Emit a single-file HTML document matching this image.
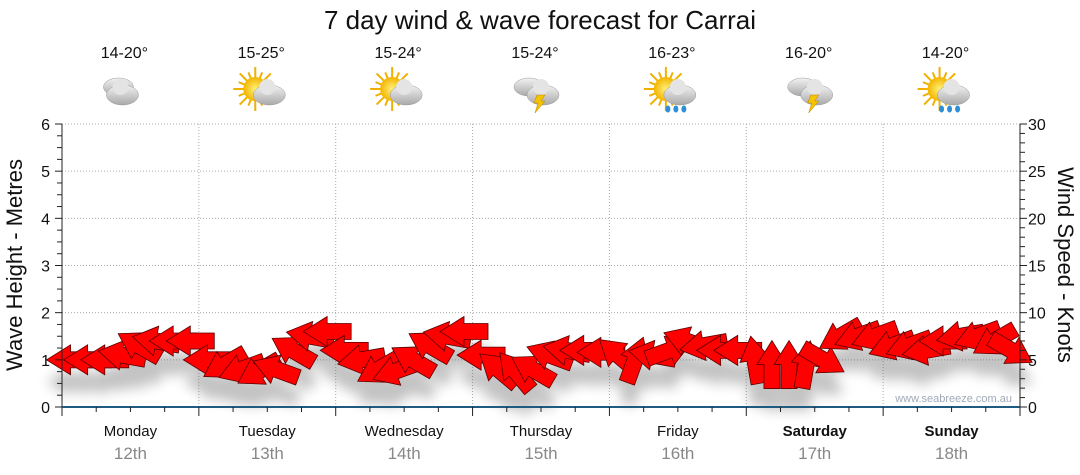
<!DOCTYPE html>
<html><head><meta charset="utf-8"><style>
body{margin:0;background:#fff;}
svg{display:block;font-family:"Liberation Sans",sans-serif;}
</style></head><body>
<svg id="chart" width="1080" height="475" viewBox="0 0 1080 475">
<defs>
<filter id="sh" x="-50%" y="-50%" width="200%" height="300%"><feGaussianBlur stdDeviation="6"/></filter>
<radialGradient id="sun" cx="0.5" cy="0.5" r="0.5"><stop offset="0" stop-color="#fff27a"/><stop offset="1" stop-color="#f3b400"/></radialGradient>
<linearGradient id="cl" x1="0" y1="0" x2="0" y2="1"><stop offset="0" stop-color="#f2f2f2"/><stop offset="1" stop-color="#a9a9a9"/></linearGradient>
</defs>
<text x="540" y="29" text-anchor="middle" font-size="26" fill="#111">7 day wind &amp; wave forecast for Carrai</text>
<g id="grid"></g><g id="shadows" filter="url(#sh)" opacity="0.35"></g><g id="arrows"></g><g id="axes"></g><g id="days"></g>
<text x="1012" y="402" text-anchor="end" font-size="11" fill="#a0aab8">www.seabreeze.com.au</text>
<text transform="translate(22,265) rotate(-90)" text-anchor="middle" font-size="22" fill="#111">Wave Height - Metres</text>
<text transform="translate(1058,265) rotate(90)" text-anchor="middle" font-size="22" fill="#111">Wind Speed - Knots</text>
</svg>
<script>
const dayNames=["Monday","Tuesday","Wednesday","Thursday","Friday","Saturday","Sunday"];
const dayDates=["12th","13th","14th","15th","16th","17th","18th"];
const temps=["14-20°","15-25°","15-24°","15-24°","16-23°","16-20°","14-20°"];
const icons=["cloud","suncloud","suncloud","storm","sunrain","storm","sunrain"];
const waveTicks=[0,1,2,3,4,5,6];
const windTicks=[0,5,10,15,20,25,30];
const windSpeed=[5,5,5,5.5,6.5,7,7,7, 5,4.5,4,3.8,4,6,7.5,8, 6,5,4,3.8,5,6.5,7.5,8, 5.5,4,3.8,4,5.5,6,6,5.8, 5.5,5,5.5,6,7,6.5,6,6, 5,4.5,4.5,4.5,5,7.5,7.5,7.5, 6.5,6.5,6,7,7.5,7.5,7,6];
const windDir=[90,90,90,100,120,100,90,90, 90,60,70,60,110,120,100,90, 90,80,60,70,120,120,100,90, 90,130,140,120,110,100,90,90, 130,200,100,250,110,80,90,90, 170,180,180,190,300,60,70,70, 70,70,80,90,80,70,60,300];
const NS="http://www.w3.org/2000/svg";
const X0=62,X1=1020,Y0=407,Y1=124;
const dayW=(X1-X0)/7;
function xT(i){return X0+dayW*(i+0.5)/8;}
function yK(k){return Y0-(Y0-Y1)*k/30;}
function yM(m){return Y0-(Y0-Y1)*m/6;}
function el(t,a,p){const e=document.createElementNS(NS,t);for(const k in a)e.setAttribute(k,a[k]);p.appendChild(e);return e;}
const grid=document.getElementById('grid'),axes=document.getElementById('axes'),days=document.getElementById('days');
waveTicks.forEach(v=>{if(v>0){const l=el('line',{x1:X0,x2:X1,y1:yM(v),y2:yM(v),stroke:'#aaa','stroke-dasharray':'1,2'},grid);}
 const t=el('text',{x:50,y:yM(v)+6,'text-anchor':'end','font-size':16,fill:'#111'},axes);t.textContent=v;
 });
for(let q=0;q<=24;q++){el('line',{x1:X0-(q%4?5:7),x2:X0,y1:yM(q/4),y2:yM(q/4),stroke:'#222'},axes);}
windTicks.forEach(v=>{const t=el('text',{x:1028,y:yK(v)+6,'font-size':16,fill:'#111'},axes);t.textContent=v;
 });
for(let k=0;k<=30;k++){el('line',{x1:X1,x2:X1+(k%5?5:7),y1:yK(k),y2:yK(k),stroke:'#222'},axes);}
el('line',{x1:X0,x2:X0,y1:Y1,y2:Y0+8,stroke:'#222'},axes);
el('line',{x1:X1,x2:X1,y1:Y1,y2:Y0,stroke:'#222'},axes);
el('line',{x1:X0,x2:X1,y1:Y0,y2:Y0,stroke:'#1f5a80','stroke-width':2},axes);
function drawIcon(type,cx,cy,g){
 if(type.startsWith('sun')){for(let a=0;a<16;a++){const r=a*Math.PI/8;el('line',{x1:cx-6+Math.cos(r)*10,y1:cy-4+Math.sin(r)*10,x2:cx-6+Math.cos(r)*(a%2?18:22),y2:cy-4+Math.sin(r)*(a%2?18:22),stroke:'#f0b000','stroke-width':2},g);}
  el('circle',{cx:cx-6,cy:cy-4,r:12,fill:'url(#sun)'},g);}
 const ox=type=='cloud'?-8:2;
 if(type=='cloud'||type=='storm'){el('ellipse',{cx:cx-6,cy:cy-6,rx:15,ry:9,fill:'url(#cl)',stroke:'#999','stroke-width':0.5},g);}
 el('ellipse',{cx:cx+ox+6,cy:cy+2,rx:16,ry:10,fill:'url(#cl)',stroke:'#999','stroke-width':0.5},g);
 el('circle',{cx:cx+ox+4,cy:cy-6,r:8,fill:'#e4e4e4'},g);
 if(type=='storm'){el('polygon',{points:`${cx+2},${cy+2} ${cx+10},${cy+2} ${cx+6},${cy+8} ${cx+10},${cy+8} ${cx},${cy+20} ${cx+3},${cy+10} ${cx-1},${cy+10}`,fill:'#f5c400',stroke:'#c08000','stroke-width':0.5},g);}
 if(type=='sunrain'){[0,8,16].forEach(d=>el('ellipse',{cx:cx-4+d,cy:cy+16,rx:2.5,ry:3.5,fill:'#2d8fd8'},g));}
}
for(let d=0;d<7;d++){
 const cx=X0+dayW*(d+0.5),xs=X0+dayW*d;
 if(d>0){const l=el('line',{x1:xs,x2:xs,y1:Y1,y2:Y0,stroke:'#aaa','stroke-dasharray':'1,2'},grid);}
 el('line',{x1:xs,x2:xs,y1:Y0,y2:Y0+9,stroke:'#222'},axes);
 for(let h=1;h<4;h++)el('line',{x1:xs+dayW*h/4,x2:xs+dayW*h/4,y1:Y0,y2:Y0+5,stroke:'#222'},axes);
 const n=el('text',{x:cx,y:436,'text-anchor':'middle','font-size':15,fill:'#111','font-weight':d>=5?'bold':'normal'},days);n.textContent=dayNames[d];
 
 const dt=el('text',{x:cx,y:459,'text-anchor':'middle','font-size':17,fill:'#888'},days);dt.textContent=dayDates[d];
 
 const t=el('text',{x:cx-6,y:58,'text-anchor':'middle','font-size':16,fill:'#111'},days);t.textContent=temps[d];
 
 const g=el('g',{},days);
 drawIcon(icons[d],cx-6,93,g);
}
el('line',{x1:X1,x2:X1,y1:Y0,y2:Y0+9,stroke:'#222'},axes);
const arrows=document.getElementById('arrows'),shadows=document.getElementById('shadows');
const shape="M-24,0 L0,-15 L0,-8 L24,-8 L24,8 L0,8 L0,15 Z";
windSpeed.forEach((s,i)=>{
 const x=xT(i),y=yK(s);
 const rot=windDir[i]-90;
 el('path',{d:shape,transform:`translate(${x},${y+22}) rotate(${rot})`,fill:'#555'},shadows);
});
windSpeed.forEach((s,i)=>{
 const x=xT(i),y=yK(s);
 const rot=windDir[i]-90;
 const a=el('path',{d:shape,transform:`translate(${x},${y}) rotate(${rot})`,fill:'#ff0000',stroke:'#5a0000','stroke-width':0.8},arrows);
 
 
});
</script>
</body></html>
